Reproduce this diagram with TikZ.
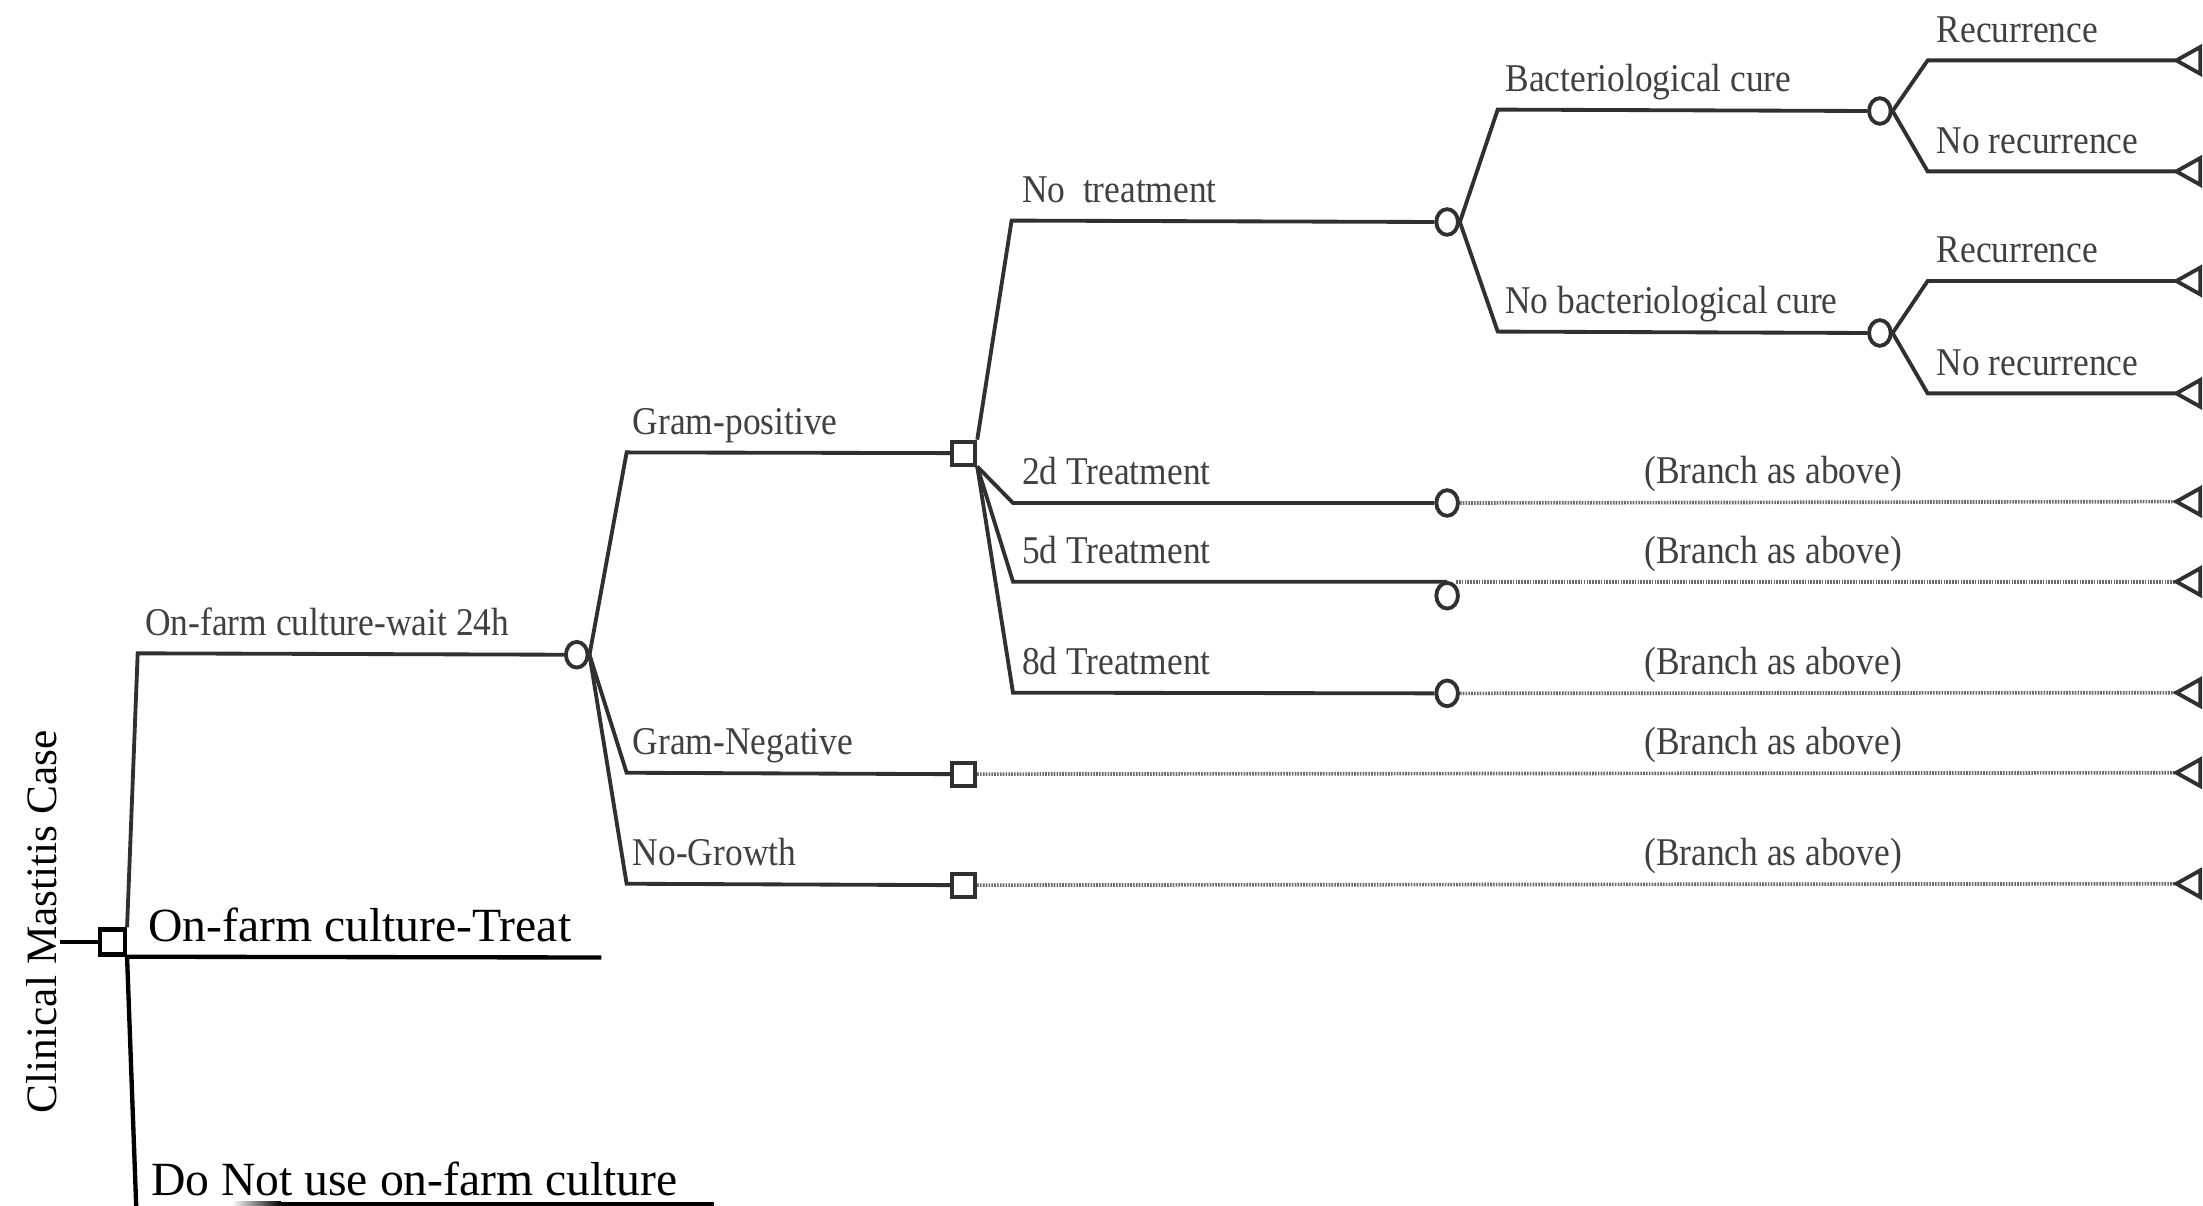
\documentclass[tikz,border=0pt]{standalone}
\usepackage{fontspec}
\setmainfont{Liberation Serif}
\newfontfamily\lblfont[FakeStretch=0.9]{Liberation Serif}
\usetikzlibrary{shapes.geometric}
\definecolor{treecol}{HTML}{303030}
\definecolor{lblcol}{HTML}{404040}
\tikzset{
  tree/.style={draw=treecol, line width=1.15pt, line join=miter},
  blk/.style={draw=black, line width=1.3pt},
  dotline/.style={draw=black!58, line width=1.1pt, dash pattern=on 0.5pt off 0.35pt},
  chance/.style={ellipse, draw=treecol, fill=white, line width=1.15pt, minimum width=6.5pt, minimum height=7.7pt, inner sep=0pt},
  dec/.style={rectangle, draw=treecol, fill=white, line width=1.15pt, minimum size=6.9pt, inner sep=0pt},
  rootsq/.style={rectangle, draw=black, fill=white, line width=1.3pt, minimum size=7.5pt, inner sep=0pt},
  lbl/.style={font=\lblfont\fontsize{11.8}{12}\selectfont, text=lblcol, anchor=base west, inner sep=0pt},
  blbl/.style={lbl, anchor=base},
  big/.style={font=\fontsize{14.3}{15}\selectfont, text=black, anchor=base west, inner sep=0pt},
  endtri/.style={draw=treecol, fill=white, line width=1.15pt, line join=miter}
}
\newcommand{\termtri}[1]{\draw[endtri] (#1) -- ++(17,-9.5) -- ++(0,19) -- cycle;}
\begin{document}
\begin{tikzpicture}[x=0.4215pt,y=-0.4215pt]
\useasboundingbox (0,0) rectangle (1568,858);

% ---------- root ----------
\node[rootsq] (root) at (80,670.5) {};
\coordinate (stub) at (43,670.5);
\draw[blk] (stub) -- (root.west);
\node[big, anchor=center, rotate=90, font=\fontsize{13}{14}\selectfont] (cmc) at (30,656) {Clinical Mastitis Case};

% wait 24h branch
\node[chance] (c1) at (410.5,466) {};
\coordinate (w1) at (98,465);
\draw[tree] (root.north east) -- (w1) -- (c1.west);
\node[lbl] (lw) at (103,452) {On-farm culture-wait 24h};

% treat branch
\coordinate (t1) at (428,681.5);
\draw[blk] (root.south east) -- (t1);
\node[big] (lt) at (105,670) {On-farm culture-Treat};

% do not use branch
\coordinate (d1) at (97,860);
\coordinate (d1b) at (200,857);
\coordinate (d2) at (508,857);
\draw[blk] (root.south east) -- (d1);
\shade[left color=white, right color=black] (165,855.5) rectangle (200,858.5);
\draw[blk] (d1b) -- (d2);
\node[big] (ld) at (107,851) {Do Not use on-farm culture};

% ---------- chance c1 branches ----------
\node[dec] (gp) at (686,322.5) {};
\node[dec] (gn) at (686,551) {};
\node[dec] (ng) at (686,630) {};
\coordinate (gp1) at (446,322);
\coordinate (gn1) at (446,550);
\coordinate (ng1) at (446,629);
\draw[tree] (c1.east) -- (gp1) -- (gp.west);
\draw[tree] (c1.east) -- (gn1) -- (gn.west);
\draw[tree] (c1.east) -- (ng1) -- (ng.west);
\node[lbl] at (450,309) {Gram-positive};
\node[lbl] at (450,537) {Gram-Negative};
\node[lbl] at (450,616) {No-Growth};

\coordinate (egn) at (1549,550);
\coordinate (eng) at (1549,629);
\draw[dotline] (gn.east) -- (egn);
\draw[dotline] (ng.east) -- (eng);
\termtri{egn}
\termtri{eng}
\node[blbl] at (1262,537) {(Branch as above)};
\node[blbl] at (1262,616) {(Branch as above)};

% ---------- Gram-positive decision ----------
\node[chance] (c2) at (1030,158) {};
\node[chance] (c3) at (1030,358) {};
\node[chance] (c4) at (1030,424) {};
\node[chance] (c5) at (1030,493.5) {};
\coordinate (nt1) at (720,157);
\coordinate (t2a) at (721,358);
\coordinate (t5a) at (721,414);
\coordinate (t5b) at (1030,414);
\coordinate (t8a) at (721,493);
\draw[tree] (gp.north east) -- (nt1) -- (c2.west);
\draw[tree] (gp.south east) -- (t2a) -- (c3.west);
\draw[tree] (gp.south east) -- (t5a) -- (t5b);
\draw[tree] (gp.south east) -- (t8a) -- (c5.west);
\node[lbl] at (727,144) {No\ \ treatment};
\node[lbl] at (727,345) {2d Treatment};
\node[lbl] at (727,401) {5d Treatment};
\node[lbl] at (727,480) {8d Treatment};

\coordinate (e2d) at (1549,357);
\coordinate (e5d) at (1549,414);
\coordinate (e8d) at (1549,493);
\draw[dotline] (c3.east) -- (e2d);
\draw[dotline] (c4.north east |- t5b) -- (e5d);
\draw[dotline] (c5.east) -- (e8d);
\termtri{e2d}
\termtri{e5d}
\termtri{e8d}
\node[blbl] at (1262,344) {(Branch as above)};
\node[blbl] at (1262,401) {(Branch as above)};
\node[blbl] at (1262,480) {(Branch as above)};

% ---------- No treatment chance ----------
\node[chance] (c6) at (1338,79) {};
\node[chance] (c7) at (1338,237) {};
\coordinate (bc1) at (1066,78);
\coordinate (nb1) at (1066,236);
\draw[tree] (c2.east) -- (bc1) -- (c6.west);
\draw[tree] (c2.east) -- (nb1) -- (c7.west);
\node[lbl] at (1071,65) {Bacteriological cure};
\node[lbl] at (1071,223) {No bacteriological cure};

% ---------- recurrence ----------
\coordinate (r1a) at (1372,43);
\coordinate (r2a) at (1372,122);
\coordinate (r3a) at (1372,200);
\coordinate (r4a) at (1372,280);
\coordinate (er1) at (1549,43);
\coordinate (er2) at (1549,122);
\coordinate (er3) at (1549,200);
\coordinate (er4) at (1549,280);
\draw[tree] (c6.east) -- (r1a) -- (er1);
\draw[tree] (c6.east) -- (r2a) -- (er2);
\draw[tree] (c7.east) -- (r3a) -- (er3);
\draw[tree] (c7.east) -- (r4a) -- (er4);
\termtri{er1}
\termtri{er2}
\termtri{er3}
\termtri{er4}
\node[lbl] at (1378,30) {Recurrence};
\node[lbl] at (1378,109) {No recurrence};
\node[lbl] at (1378,187) {Recurrence};
\node[lbl] at (1378,267) {No recurrence};
\end{tikzpicture}
\end{document}
